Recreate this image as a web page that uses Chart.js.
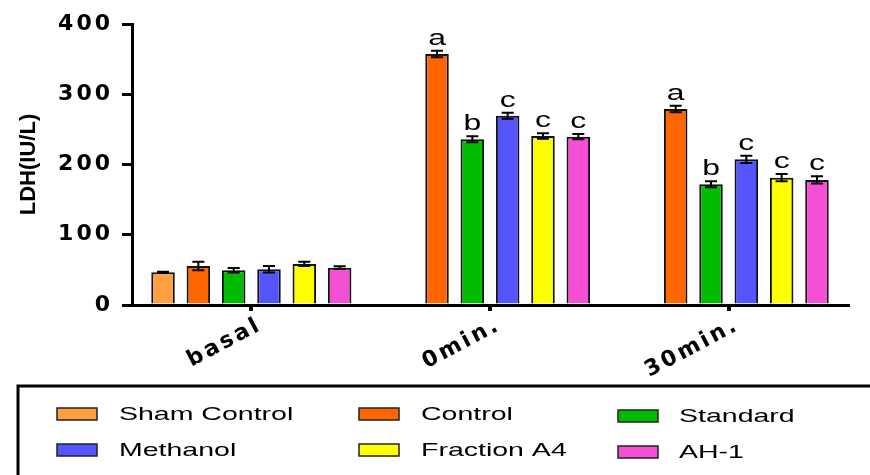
<!DOCTYPE html>
<html>
<head>
<meta charset="utf-8">
<title>LDH</title>
<script src="https://cdn.jsdelivr.net/npm/chart.js@4.4.1/dist/chart.umd.min.js"></script>
<style>
  body { margin: 0; background: #fff; }
  #wrap { width: 870px; height: 475px; }
</style>
</head>
<body>
<div id="wrap"><canvas id="chart-ldh" width="870" height="475"></canvas></div>
<script>
const categories = ["basal", "0min.", "30min."];
const groupNames = ["Sham Control", "Control", "Standard", "Methanol", "Fraction A4", "AH-1"];
const groupColors = ["#ff9f40", "#ff6600", "#00bd00", "#5555ff", "#ffff00", "#f54fd6"];

// mean LDH (IU/L) per group, one value per time point
const shamControl = [46.5, null, null];
const control = [55.5, 357.3, 279];
const standard = [49.4, 235.8, 171.8];
const methanol = [50.8, 269.5, 207.4];
const fractionA4 = [58.4, 240.6, 181.3];
const ah1 = [53.1, 239.6, 178];

// SEM
const shamControlErr = [1, null, null];
const controlErr = [6, 4.7, 4.7];
const standardErr = [3.3, 4.3, 4.3];
const methanolErr = [4.7, 4.3, 5.2];
const fractionA4Err = [3, 3.8, 5.2];
const ah1Err = [2, 3.8, 5.2];

// significance letters
const shamControlSig = ["", "", ""];
const controlSig = ["", "a", "a"];
const standardSig = ["", "b", "b"];
const methanolSig = ["", "c", "c"];
const fractionA4Sig = ["", "c", "c"];
const ah1Sig = ["", "c", "c"];

const yTicks = [0, 100, 200, 300, 400];

const values = [shamControl, control, standard, methanol, fractionA4, ah1];
const errors = [shamControlErr, controlErr, standardErr, methanolErr, fractionA4Err, ah1Err];
const letters = [shamControlSig, controlSig, standardSig, methanolSig, fractionA4Sig, ah1Sig];

const setSpacing = (ctx, px) => {
  if ("letterSpacing" in ctx) ctx.letterSpacing = px + "px";
};

// error bars + letters, then widen the tick labels drawn after this hook
const errorBars = {
  id: "errorBars",
  beforeDraw(chart) {
    setSpacing(chart.ctx, 0);
  },
  afterDatasetsDraw(chart) {
    const ctx = chart.ctx;
    const yScale = chart.scales.y;
    ctx.save();
    ctx.strokeStyle = "#000";
    ctx.lineWidth = 2;
    chart.data.datasets.forEach((ds, i) => {
      const meta = chart.getDatasetMeta(i);
      meta.data.forEach((bar, j) => {
        const v = values[i][j];
        if (v === null) return;
        const e = errors[i][j];
        const top = yScale.getPixelForValue(v + e);
        const bottom = yScale.getPixelForValue(v - e);
        const x = bar.x;
        ctx.beginPath();
        ctx.moveTo(x, top);
        ctx.lineTo(x, bottom);
        ctx.moveTo(x - 6, top);
        ctx.lineTo(x + 6, top);
        ctx.moveTo(x - 6, bottom);
        ctx.lineTo(x + 6, bottom);
        ctx.stroke();

        const letter = letters[i][j];
        if (letter) {
          ctx.save();
          ctx.translate(x, top - 6);
          ctx.scale(1.45, 1);
          ctx.fillStyle = "#000";
          ctx.font = "22px 'Liberation Sans', Arial, sans-serif";
          ctx.textAlign = "center";
          ctx.textBaseline = "alphabetic";
          ctx.fillText(letter, 0, 0);
          ctx.restore();
        }
      });
    });
    ctx.restore();
    setSpacing(ctx, 3);
  },
};

// boxed legend in three columns under the chart
const legendBox = {
  id: "legendBox",
  afterDraw(chart) {
    const ctx = chart.ctx;
    setSpacing(ctx, 0);
    ctx.save();
    ctx.strokeStyle = "#000";
    ctx.lineWidth = 3;
    ctx.strokeRect(18, 386, 880, 120);

    const colX = [57, 359, 618];
    const textX = [119, 421, 679];
    const rowY = [420, 456];
    ctx.font = "19px 'Liberation Sans', Arial, sans-serif";
    ctx.textBaseline = "alphabetic";
    chart.data.datasets.forEach((ds, i) => {
      const col = i % 3;
      const row = Math.floor(i / 3);
      const base = rowY[row] + (col === 2 ? 2 : 0);
      ctx.fillStyle = ds.backgroundColor;
      ctx.fillRect(colX[col], base - 12, 40, 12);
      ctx.lineWidth = 1.5;
      ctx.strokeStyle = "#222";
      ctx.strokeRect(colX[col], base - 12, 40, 12);
      ctx.save();
      ctx.translate(textX[col], base);
      ctx.scale(1.5, 1);
      ctx.fillStyle = "#000";
      ctx.fillText(ds.label, 0, 0);
      ctx.restore();
    });
    ctx.restore();
  },
};

const tickFont = { family: "'DejaVu Sans', sans-serif", size: 22, weight: "bold" };

const ctx = document.getElementById("chart-ldh");
new Chart(ctx, {
  type: "bar",
  data: {
    labels: categories,
    datasets: groupNames.map((name, i) => ({
      label: name,
      data: values[i],
      backgroundColor: groupColors[i],
      borderColor: "#111",
      borderWidth: 2,
      categoryPercentage: 0.888,
      barPercentage: 0.666,
    })),
  },
  options: {
    responsive: false,
    animation: false,
    events: [],
    layout: { padding: { top: 24, right: 22, left: 0, bottom: 0 } },
    plugins: {
      legend: { display: false },
      tooltip: { enabled: false },
    },
    scales: {
      x: {
        offset: true,
        grid: {
          display: true,
          drawOnChartArea: false,
          offset: false,
          tickLength: 6,
          lineWidth: 4,
          color: "#000",
        },
        border: { color: "#000", width: 3, z: 1 },
        ticks: {
          color: "#000",
          font: tickFont,
          minRotation: 28,
          maxRotation: 28,
          padding: 1,
          labelOffset: 9,
          z: 1,
        },
        afterFit: (scale) => {
          scale.height = 170;
        },
      },
      y: {
        min: 0,
        max: 400,
        afterBuildTicks: (scale) => {
          scale.ticks = yTicks.map((v) => ({ value: v }));
        },
        grid: {
          display: true,
          drawOnChartArea: false,
          tickLength: 10,
          lineWidth: 3,
          color: "#000",
        },
        border: { color: "#000", width: 3, z: 1 },
        ticks: {
          color: "#000",
          font: tickFont,
          padding: 9,
          z: 1,
        },
        title: {
          display: true,
          text: "LDH(IU/L)",
          color: "#000",
          font: { family: "'Liberation Sans', Arial, sans-serif", size: 22, weight: "bold" },
          padding: { top: 16, bottom: 0 },
        },
        afterFit: (scale) => {
          scale.width = 132;
        },
      },
    },
  },
  plugins: [errorBars, legendBox],
});
</script>
</body>
</html>
